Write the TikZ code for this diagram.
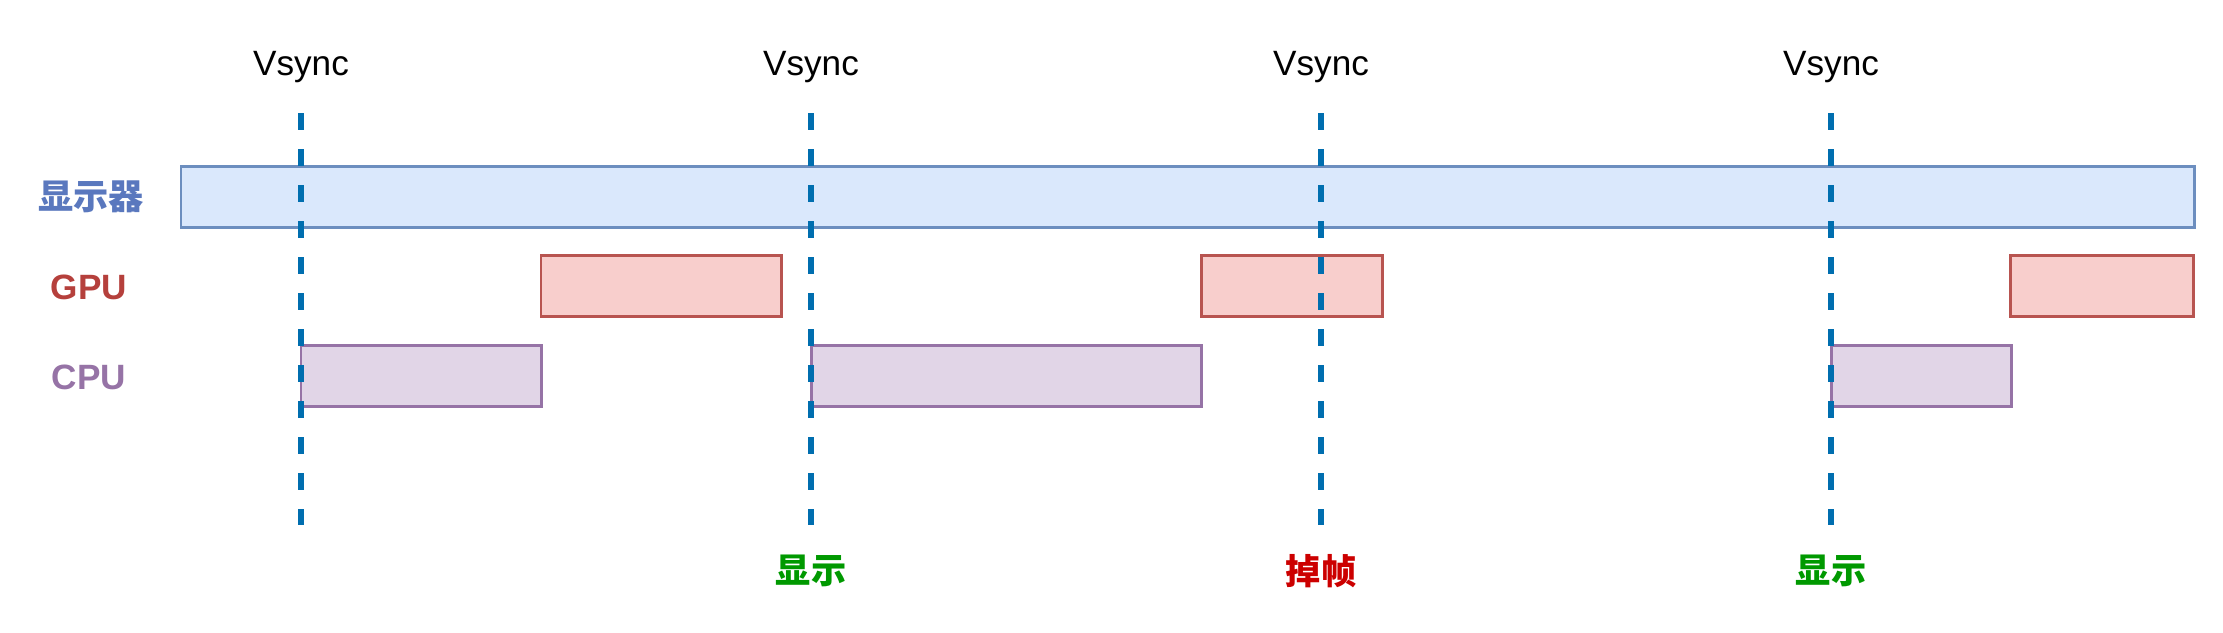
\documentclass[tikz,border=0pt]{standalone}
\usepackage{fontspec}
\setmainfont{Liberation Sans}
\newfontfamily\cjk{Noto Sans CJK SC}
\definecolor{vsyncblue}{HTML}{006EAF}
\definecolor{dispfill}{HTML}{DAE8FC}
\definecolor{dispedge}{HTML}{6C8EBF}
\definecolor{gpufill}{HTML}{F8CECC}
\definecolor{gpuedge}{HTML}{B85450}
\definecolor{cpufill}{HTML}{E1D5E7}
\definecolor{cpuedge}{HTML}{9673A6}
\definecolor{disptext}{HTML}{5A78BE}
\definecolor{gputext}{HTML}{B5403C}
\definecolor{okgreen}{HTML}{009900}
\definecolor{dropred}{HTML}{CC0000}
\tikzstyle{bar}=[draw,line width=0.85pt,inner sep=0pt,outer sep=0pt,minimum height=0.6cm,anchor=west]
\tikzstyle{dispbar}=[bar,draw=dispedge,fill=dispfill]
\tikzstyle{gpubar}=[bar,draw=gpuedge,fill=gpufill]
\tikzstyle{cpubar}=[bar,draw=cpuedge,fill=cpufill]
\tikzstyle{vline}=[draw=vsyncblue,line width=1.6pt,dash pattern=on 0.17cm off 0.19cm]
\tikzstyle{vlabel}=[font=\fontsize{10}{12}\selectfont,anchor=base,inner sep=0pt]
\tikzstyle{rowlabel}=[font=\fontsize{10}{12}\selectfont\bfseries,inner sep=0pt]
\tikzstyle{result}=[font=\fontsize{10}{12}\selectfont\cjk\bfseries,inner sep=0pt]

\begin{document}
\begin{tikzpicture}[x=0.01cm,y=-0.01cm]
  \useasboundingbox (0,0) rectangle (2223,633);
  % display, gpu and cpu rows
  \node[dispbar,minimum width=20.12cm] (disp) at (181,197) {};
  \node[gpubar,minimum width=2.40cm] (g1) at (541,286) {};
  \node[gpubar,minimum width=1.81cm] (g2) at (1201,286) {};
  \node[gpubar,minimum width=1.83cm] (g3) at (2010,286) {};
  \node[cpubar,minimum width=2.40cm] (c1) at (301,376) {};
  \node[cpubar,minimum width=3.90cm] (c2) at (811,376) {};
  \node[cpubar,minimum width=1.80cm] (c3) at (1831,376) {};
  \node[rowlabel,text=disptext] (ldisp) at (91,197) {\cjk 显示器};
  \node[rowlabel,text=gputext] (lgpu) at (89,287) {GPU};
  \node[rowlabel,text=cpuedge] (lcpu) at (89,377) {CPU};
  % vsync signals
  \foreach \i/\x in {1/301,2/811,3/1321,4/1831} {
    \node[vlabel] (vs\i) at (\x,75) {Vsync};
    \coordinate (vt\i) at (\x,113);
    \coordinate (vb\i) at (\x,525);
    \draw[vline] (vt\i) -- (vb\i);
  }
  \node[result,text=okgreen] (r2) at (811,571) {显示};
  \node[result,text=dropred] (r3) at (1321,571) {掉帧};
  \node[result,text=okgreen] (r4) at (1831,571) {显示};
\end{tikzpicture}
\end{document}
